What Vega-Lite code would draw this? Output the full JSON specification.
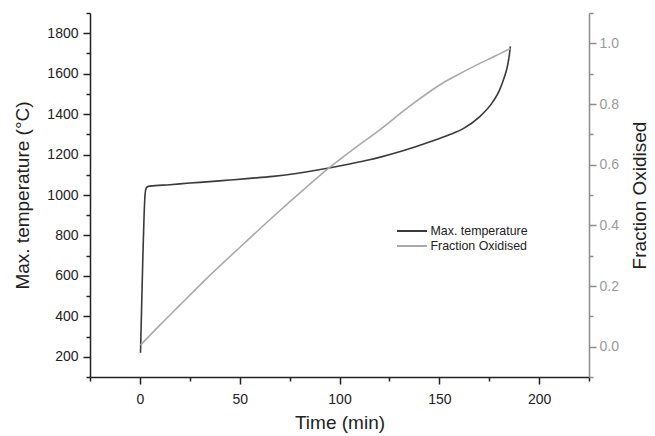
{
  "$schema": "https://vega.github.io/schema/vega-lite/v6.json",
  "autosize": {"type": "none"},
  "width": 499,
  "height": 364,
  "padding": {"left": 90, "top": 13, "right": 66, "bottom": 59},
  "background": "white",
  "config": {
    "view": {"stroke": null},
    "font": "Liberation Sans",
    "axis": {
      "grid": false,
      "labelFont": "Liberation Sans",
      "titleFont": "Liberation Sans",
      "labelFontSize": 14,
      "titleFontSize": 19,
      "titleFontWeight": "normal",
      "domainWidth": 1.5,
      "tickWidth": 1.5,
      "labelColor": "#222222",
      "titleColor": "#222222",
      "domainColor": "#222222",
      "tickColor": "#222222"
    },
    "legend": {
      "labelFont": "Liberation Sans",
      "labelFontSize": 12.4,
      "labelColor": "#222222"
    }
  },
  "datasets": {
    "temp": [
      {"t": 0.3, "temp": 220},
      {"t": 0.9, "temp": 460},
      {"t": 1.5, "temp": 700},
      {"t": 2.1, "temp": 900},
      {"t": 2.6, "temp": 1005},
      {"t": 3.1, "temp": 1033},
      {"t": 3.8, "temp": 1041},
      {"t": 5, "temp": 1044},
      {"t": 15, "temp": 1051},
      {"t": 25, "temp": 1059},
      {"t": 35, "temp": 1066},
      {"t": 45, "temp": 1074},
      {"t": 55, "temp": 1082},
      {"t": 66.7, "temp": 1092},
      {"t": 80, "temp": 1109},
      {"t": 94, "temp": 1132},
      {"t": 105, "temp": 1153},
      {"t": 115, "temp": 1174},
      {"t": 120, "temp": 1186},
      {"t": 133, "temp": 1222},
      {"t": 145, "temp": 1262},
      {"t": 155, "temp": 1298},
      {"t": 162, "temp": 1328},
      {"t": 170, "temp": 1385},
      {"t": 176.7, "temp": 1459},
      {"t": 180, "temp": 1515},
      {"t": 181.7, "temp": 1558},
      {"t": 183, "temp": 1595},
      {"t": 184.2, "temp": 1640},
      {"t": 185, "temp": 1685},
      {"t": 185.6, "temp": 1735}
    ],
    "frac": [
      {"t": 0.3, "frac": 0.005},
      {"t": 10, "frac": 0.071},
      {"t": 20, "frac": 0.137},
      {"t": 33, "frac": 0.222},
      {"t": 50, "frac": 0.327},
      {"t": 67, "frac": 0.43},
      {"t": 80, "frac": 0.506},
      {"t": 94, "frac": 0.585},
      {"t": 107, "frac": 0.651},
      {"t": 120, "frac": 0.714},
      {"t": 135, "frac": 0.792},
      {"t": 153, "frac": 0.874},
      {"t": 162, "frac": 0.906},
      {"t": 170, "frac": 0.933},
      {"t": 178, "frac": 0.958},
      {"t": 185.6, "frac": 0.983}
    ]
  },
  "layer": [
    {
      "data": {"name": "temp"},
      "mark": {"type": "line", "interpolate": "monotone", "strokeWidth": 1.6},
      "encoding": {
        "x": {
          "field": "t",
          "type": "quantitative",
          "scale": {"domain": [-25, 225], "nice": false, "zero": false},
          "axis": {
            "title": "Time (min)",
            "values": [-25, 0, 25, 50, 75, 100, 125, 150, 175, 200, 225],
            "format": "d",
            "labelExpr": "datum.value % 50 === 0 ? datum.label : ''",
            "tickSize": {"condition": {"test": "datum.value % 50 === 0", "value": 7}, "value": 4},
            "labelPadding": 8,
            "titlePadding": 7
          }
        },
        "y": {
          "field": "temp",
          "type": "quantitative",
          "scale": {"domain": [100, 1900], "nice": false, "zero": false},
          "axis": {
            "title": "Max. temperature (°C)",
            "orient": "left",
            "values": [100, 200, 300, 400, 500, 600, 700, 800, 900, 1000, 1100, 1200, 1300, 1400, 1500, 1600, 1700, 1800, 1900],
            "format": "d",
            "labelExpr": "datum.value % 200 === 0 ? datum.label : ''",
            "tickSize": {"condition": {"test": "datum.value % 200 === 0", "value": 7}, "value": 4},
            "labelPadding": 5,
            "titlePadding": 14
          }
        },
        "color": {
          "datum": "Max. temperature",
          "type": "nominal",
          "scale": {"domain": ["Max. temperature", "Fraction Oxidised"], "range": ["#3a3a3a", "#a9a9a9"]},
          "legend": {
            "title": null,
            "orient": "none",
            "legendX": 313.5,
            "legendY": 209.5,
            "symbolType": "M-2,0H2",
            "symbolSize": 225,
            "symbolStrokeWidth": 2,
            "rowPadding": 0,
            "labelOffset": 10
          }
        }
      }
    },
    {
      "data": {"name": "frac"},
      "mark": {"type": "line", "interpolate": "monotone", "strokeWidth": 1.6},
      "encoding": {
        "x": {"field": "t", "type": "quantitative"},
        "y": {
          "field": "frac",
          "type": "quantitative",
          "scale": {"domain": [-0.1, 1.1], "nice": false, "zero": false},
          "axis": {
            "title": "Fraction Oxidised",
            "orient": "right",
            "values": [-0.1, 0, 0.1, 0.2, 0.3, 0.4, 0.5, 0.6, 0.7, 0.8, 0.9, 1.0, 1.1],
            "labelExpr": "round(datum.value * 10) % 2 === 0 ? format(datum.value, '.1f') : ''",
            "tickSize": {"condition": {"test": "round(datum.value * 10) % 2 === 0", "value": 7}, "value": 4},
            "domainColor": "#8c8c8c",
            "tickColor": "#8c8c8c",
            "labelColor": "#9a9a9a",
            "titleColor": "#222222",
            "titleAngle": 270,
            "labelPadding": 3,
            "titlePadding": 31
          }
        },
        "color": {"datum": "Fraction Oxidised", "type": "nominal"}
      }
    }
  ],
  "resolve": {"scale": {"y": "independent"}}
}
